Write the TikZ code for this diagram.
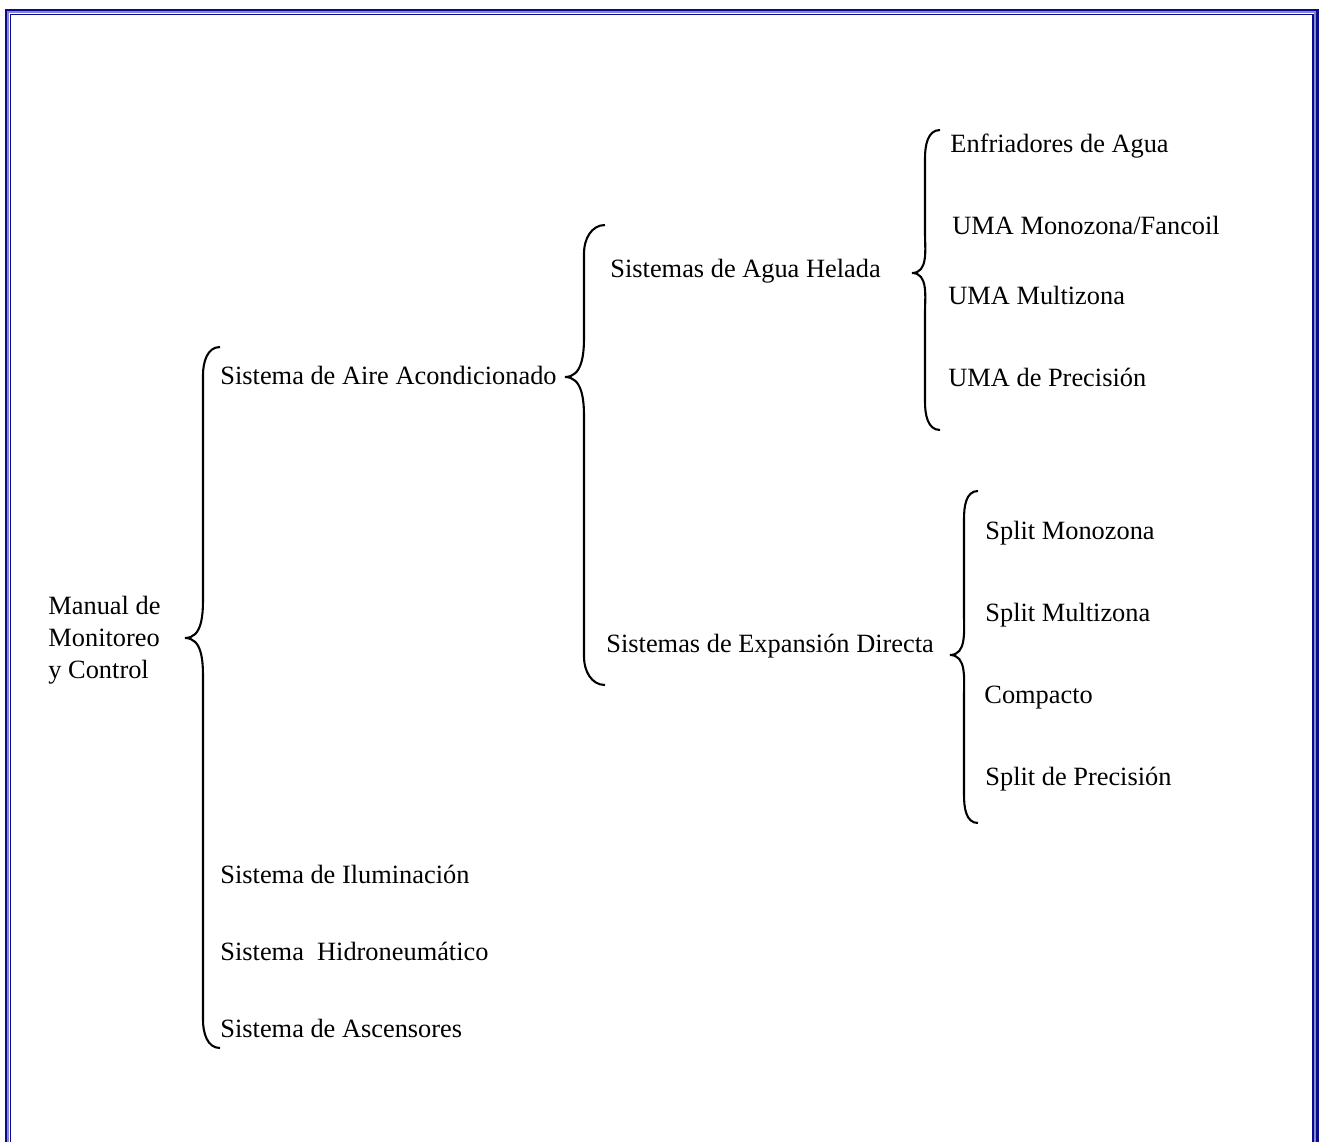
\documentclass[tikz,border=0pt]{standalone}
\usepackage{fontspec}
\setmainfont{Liberation Serif}
\usetikzlibrary{positioning}
\definecolor{framedark}{RGB}{10,10,140}
\definecolor{framelight}{RGB}{135,135,210}
\tikzset{
  item/.style={anchor=base west,inner sep=0pt,font=\fontsize{12pt}{14.6pt}\selectfont},
  brace/.style={black,line width=0.95pt},
  frameline/.style={line width=1pt}
}
% #1 x of the stem, #2 top, #3 tip, #4 bottom, #5 x of the tip, #6 x of the ends
\newcommand{\curlybrace}[6]{%
  \draw[brace] (#6,#2) to[out=180,in=90] (#1,#2-28) -- (#1,#3+40)
    to[out=-90,in=0] (#5,#3) to[out=0,in=90] (#1,#3-40) -- (#1,#4+28)
    to[out=-90,in=180] (#6,#4);}

\begin{document}
\begin{tikzpicture}[x=0.455pt,y=0.455pt]
  \useasboundingbox (0,0) rectangle (1320,-1142);
  % frame
  \draw[frameline,framedark] (6,-10) rectangle (1317.5,-1170);
  \draw[frameline,framelight] (8.3,-12.3) rectangle (1315.2,-1170);
  \draw[frameline,framedark,line width=0.8pt] (10.6,-14.6) rectangle (1312.9,-1170);

  % first level
  \node[item,anchor=west,align=left] (manual) at (48,-640) {Manual de\\Monitoreo\\y Control};
  \node[item] (aire) at (220,-384) {Sistema de Aire Acondicionado};
  \node[item] (ilum) at (220,-883) {Sistema de Iluminación};
  \node[item] (hidro) at (220,-960) {Sistema~~Hidroneumático};
  \node[item] (ascen) at (220,-1037) {Sistema de Ascensores};

  % second level
  \node[item] (agua) at (610,-277) {Sistemas de Agua Helada};
  \node[item] (expan) at (606,-652) {Sistemas de Expansión Directa};

  % third level
  \node[item] (enfr) at (950,-153) {Enfriadores de Agua};
  \node[item] (umamono) at (952,-234) {UMA Monozona/Fancoil};
  \node[item] (umamulti) at (948,-304) {UMA Multizona};
  \node[item] (umaprec) at (948,-386) {UMA de Precisión};
  \node[item] (splmono) at (985,-539) {Split Monozona};
  \node[item] (splmulti) at (985,-621) {Split Multizona};
  \node[item] (compacto) at (984,-703) {Compacto};
  \node[item] (splprec) at (985,-785) {Split de Precisión};

  % braces
  \curlybrace{203}{-347}{-638}{-1048}{185}{220}
  \curlybrace{584}{-225}{-377}{-685}{565}{605}
  \curlybrace{925}{-130}{-273}{-430}{912}{940}
  \curlybrace{964}{-491}{-655}{-823}{950}{978}
\end{tikzpicture}
\end{document}
